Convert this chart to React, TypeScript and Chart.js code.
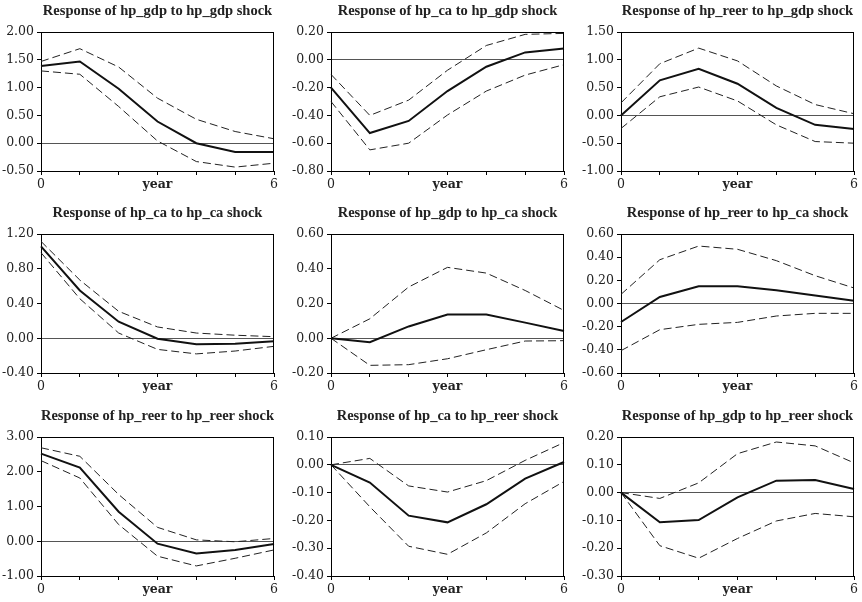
import React, { useEffect, useRef } from "react";
import { Chart, registerables } from "chart.js";

Chart.register(...registerables);

// ---- data ----
const years = [0, 1, 2, 3, 4, 5, 6];

const titles = [
  "Response of hp_gdp to hp_gdp shock",
  "Response of hp_ca to hp_gdp shock",
  "Response of hp_reer to hp_gdp shock",
  "Response of hp_ca to hp_ca shock",
  "Response of hp_gdp to hp_ca shock",
  "Response of hp_reer to hp_ca shock",
  "Response of hp_reer to hp_reer shock",
  "Response of hp_ca to hp_reer shock",
  "Response of hp_gdp to hp_reer shock",
];

const yMins = [-0.5, -0.8, -1.0, -0.4, -0.2, -0.6, -1.0, -0.4, -0.3];
const yMaxs = [2.0, 0.2, 1.5, 1.2, 0.6, 0.6, 3.0, 0.1, 0.2];
const ySteps = [0.5, 0.2, 0.5, 0.4, 0.2, 0.2, 1.0, 0.1, 0.1];

const gdpGdpMid = [1.39, 1.47, 0.98, 0.39, 0.0, -0.16, -0.16];
const gdpGdpUp = [1.47, 1.7, 1.37, 0.81, 0.43, 0.21, 0.08];
const gdpGdpLo = [1.3, 1.24, 0.66, 0.04, -0.33, -0.43, -0.36];

const caGdpMid = [-0.2, -0.527, -0.44, -0.225, -0.05, 0.053, 0.082];
const caGdpUp = [-0.105, -0.4, -0.29, -0.075, 0.103, 0.183, 0.19];
const caGdpLo = [-0.3, -0.648, -0.6, -0.397, -0.225, -0.11, -0.035];

const reerGdpMid = [0.0, 0.63, 0.84, 0.57, 0.135, -0.17, -0.245];
const reerGdpUp = [0.225, 0.93, 1.21, 0.98, 0.53, 0.195, 0.03];
const reerGdpLo = [-0.235, 0.335, 0.51, 0.26, -0.17, -0.47, -0.5];

const caCaMid = [1.058, 0.55, 0.19, -0.005, -0.07, -0.063, -0.035];
const caCaUp = [1.115, 0.67, 0.31, 0.13, 0.06, 0.035, 0.018];
const caCaLo = [0.985, 0.455, 0.06, -0.128, -0.18, -0.147, -0.093];

const gdpCaMid = [0, -0.023, 0.068, 0.137, 0.137, 0.09, 0.042];
const gdpCaUp = [0, 0.112, 0.295, 0.408, 0.375, 0.275, 0.16];
const gdpCaLo = [0, -0.156, -0.152, -0.118, -0.066, -0.016, -0.014];

const reerCaMid = [-0.16, 0.056, 0.148, 0.148, 0.114, 0.07, 0.024];
const reerCaUp = [0.079, 0.378, 0.496, 0.468, 0.37, 0.24, 0.134];
const reerCaLo = [-0.407, -0.226, -0.18, -0.163, -0.108, -0.085, -0.085];

const reerReerMid = [2.52, 2.12, 0.85, -0.07, -0.35, -0.25, -0.08];
const reerReerUp = [2.69, 2.445, 1.345, 0.4, 0.04, -0.015, 0.08];
const reerReerLo = [2.32, 1.82, 0.48, -0.43, -0.71, -0.49, -0.25];

const caReerMid = [0, -0.064, -0.183, -0.207, -0.142, -0.05, 0.01];
const caReerUp = [0, 0.023, -0.076, -0.098, -0.057, 0.016, 0.08];
const caReerLo = [0, -0.151, -0.293, -0.322, -0.245, -0.14, -0.06];

const gdpReerMid = [0, -0.107, -0.099, -0.017, 0.043, 0.045, 0.013];
const gdpReerUp = [0, -0.021, 0.035, 0.14, 0.182, 0.168, 0.107];
const gdpReerLo = [0, -0.191, -0.236, -0.165, -0.102, -0.075, -0.087];

const midSeries = [gdpGdpMid, caGdpMid, reerGdpMid, caCaMid, gdpCaMid, reerCaMid, reerReerMid, caReerMid, gdpReerMid];
const upSeries = [gdpGdpUp, caGdpUp, reerGdpUp, caCaUp, gdpCaUp, reerCaUp, reerReerUp, caReerUp, gdpReerUp];
const loSeries = [gdpGdpLo, caGdpLo, reerGdpLo, caCaLo, gdpCaLo, reerCaLo, reerReerLo, caReerLo, gdpReerLo];

// ---- layout ----
const PANEL_W = 290;
const PANEL_H = 193;
const ROW_TOPS = [0, 202, 405];
const TICK_FONT = "'DejaVu Serif', 'Liberation Serif', serif";

const framePlugin = {
  id: "frame",
  afterDraw(chart: any) {
    const { ctx, chartArea } = chart;
    const { left, top, right, bottom } = chartArea;
    ctx.save();
    ctx.strokeStyle = "#000";
    ctx.lineWidth = 1;
    ctx.beginPath();
    ctx.moveTo(left, Math.round(top) + 0.5);
    ctx.lineTo(right, Math.round(top) + 0.5);
    ctx.moveTo(Math.round(right) - 0.5, top);
    ctx.lineTo(Math.round(right) - 0.5, bottom);
    ctx.stroke();
    ctx.restore();
  },
};

function Panel({ i }: { i: number }) {
  const ref = useRef<HTMLCanvasElement | null>(null);
  useEffect(() => {
    if (!ref.current) return;
    const dashed = (data: number[]) => ({
      data,
      borderColor: "#222",
      borderWidth: 1,
      borderDash: [8, 4],
      pointRadius: 0,
      tension: 0,
      fill: false,
    });
    const chart = new Chart(ref.current, {
      type: "line",
      data: {
        labels: years.map(String),
        datasets: [
          {
            data: midSeries[i],
            borderColor: "#111",
            borderWidth: 2,
            pointRadius: 0,
            tension: 0,
            fill: false,
          },
          dashed(upSeries[i]),
          dashed(loSeries[i]),
        ],
      },
      options: {
        animation: false,
        responsive: false,
        layout: { padding: { left: 0, right: 16, top: 0, bottom: 0 } },
        plugins: {
          legend: { display: false },
          tooltip: { enabled: false },
          title: {
            display: true,
            text: titles[i],
            fullSize: false,
            color: "#222",
            font: { family: "'Liberation Serif', serif", weight: "bold", size: 14.5, lineHeight: 1.2 },
            padding: { top: 3, bottom: 11.6 },
          },
        },
        scales: {
          x: {
            type: "category",
            offset: false,
            afterFit: (s: any) => {
              s.height = 22;
            },
            border: { display: true, color: "#000", width: 1 },
            grid: { drawOnChartArea: false, drawTicks: true, tickLength: 4, color: "#000" },
            ticks: {
              autoSkip: false,
              maxRotation: 0,
              padding: 2,
              color: "#222",
              font: (c: any) =>
                c.index === 3
                  ? { family: TICK_FONT, size: 12.5, weight: "bold" }
                  : { family: TICK_FONT, size: 12.5 },
              callback: (_v: any, idx: number) =>
                idx === 0 || idx === years.length - 1 ? String(years[idx]) : idx === 3 ? "year" : "",
            },
          },
          y: {
            min: yMins[i],
            max: yMaxs[i],
            afterFit: (s: any) => {
              s.width = 41;
            },
            border: { display: true, color: "#000", width: 1 },
            grid: {
              drawOnChartArea: true,
              drawTicks: true,
              tickLength: 4,
              tickColor: "#000",
              color: (c: any) => (c.tick && Math.abs(c.tick.value) < 1e-9 ? "#555" : "rgba(0,0,0,0)"),
              lineWidth: 1,
            },
            ticks: {
              stepSize: ySteps[i],
              padding: 3,
              color: "#222",
              font: { family: TICK_FONT, size: 12.5 },
              callback: (v: any) => Number(v).toFixed(2),
            },
          },
        },
      },
      plugins: [framePlugin],
    } as any);
    return () => chart.destroy();
  }, [i]);
  const col = i % 3;
  const row = Math.floor(i / 3);
  return (
    <canvas
      ref={ref}
      width={PANEL_W}
      height={PANEL_H}
      style={{ position: "absolute", left: col * PANEL_W, top: ROW_TOPS[row], width: PANEL_W, height: PANEL_H }}
    />
  );
}

export default function App() {
  return (
    <div style={{ position: "absolute", left: 0, top: 0, width: 862, height: 602, background: "#fff", overflow: "hidden" }}>
      {titles.map((_, i) => (
        <Panel key={i} i={i} />
      ))}
    </div>
  );
}
